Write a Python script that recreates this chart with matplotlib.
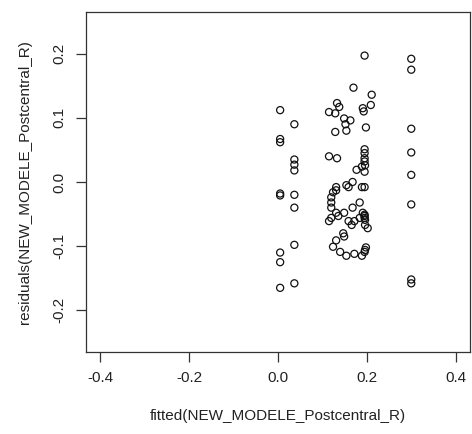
import matplotlib
matplotlib.use('Agg')
from matplotlib import pyplot as plt

# fitted values and residuals, grouped by column
fit_a = [0.005] * 8
res_a = [0.112, 0.067, 0.062, -0.018, -0.021, -0.110, -0.125, -0.165]

fit_b = [0.037] * 8
res_b = [0.090, 0.035, 0.027, 0.018, -0.020, -0.040, -0.098, -0.158]

fit_c = [0.115, 0.129, 0.133, 0.138, 0.170, 0.149, 0.152, 0.154, 0.129, 0.115,
         0.133, 0.163, 0.195, 0.191, 0.193, 0.198, 0.211, 0.209, 0.195, 0.195,
         0.195, 0.195, 0.196, 0.195, 0.189, 0.189, 0.195, 0.168, 0.177, 0.154,
         0.159, 0.131, 0.120, 0.120, 0.120, 0.124, 0.131, 0.131, 0.120, 0.115,
         0.136, 0.149, 0.147, 0.149, 0.159, 0.172, 0.166, 0.168, 0.184, 0.191,
         0.184, 0.195, 0.195, 0.195, 0.196, 0.196, 0.202, 0.131, 0.124, 0.140,
         0.154, 0.172, 0.189, 0.195, 0.196, 0.198]
res_c = [0.109, 0.107, 0.123, 0.117, 0.147, 0.099, 0.090, 0.080, 0.078, 0.040,
         0.037, 0.096, 0.197, 0.115, 0.110, 0.085, 0.136, 0.120, 0.051, 0.045,
         0.037, 0.032, 0.026, 0.016, 0.024, -0.008, -0.008, 0.000, 0.019, -0.005,
         -0.008, -0.008, -0.024, -0.032, -0.040, -0.016, -0.013, -0.048, -0.056, -0.061,
         -0.053, -0.048, -0.080, -0.085, -0.061, -0.061, -0.067, -0.040, -0.032, -0.048,
         -0.056, -0.053, -0.056, -0.051, -0.059, -0.067, -0.072, -0.091, -0.101, -0.109,
         -0.115, -0.112, -0.115, -0.109, -0.106, -0.102]

fit_d = [0.30] * 8
res_d = [0.192, 0.175, 0.083, 0.046, 0.011, -0.035, -0.152, -0.158]

fitted = fit_a + fit_b + fit_c + fit_d
residuals = res_a + res_b + res_c + res_d

xticks = [-0.4, -0.2, 0.0, 0.2, 0.4]
yticks = [-0.2, -0.1, 0.0, 0.1, 0.2]

plt.rcParams['font.family'] = ['Liberation Sans', 'DejaVu Sans']

fig = plt.figure(figsize=(4.72, 4.34), dpi=100)
ax = fig.add_axes([0.182, 0.189, 0.8136, 0.7834])
ax.scatter(fitted, residuals, s=26, facecolors='none', edgecolors='#111111', linewidths=0.9)

ax.set_xlim(-0.432, 0.432)
ax.set_ylim(-0.265, 0.265)
ax.set_xticks(xticks)
ax.set_yticks(yticks)
ax.set_xticklabels(['%.1f' % t for t in xticks])
ax.set_yticklabels(['%.1f' % t for t in yticks], rotation=90, va='center')
ax.tick_params(length=7, width=0.9, color='#333333', labelsize=11, pad=7, labelcolor='#222222')
for s in ax.spines.values():
    s.set_color('#333333')
    s.set_linewidth(0.9)

ax.set_xlabel('fitted(NEW_MODELE_Postcentral_R)', fontsize=11, color='#222222', labelpad=17)
ax.set_ylabel('residuals(NEW_MODELE_Postcentral_R)', fontsize=11, color='#222222', labelpad=15)

fig.savefig('out.png', dpi=100)
